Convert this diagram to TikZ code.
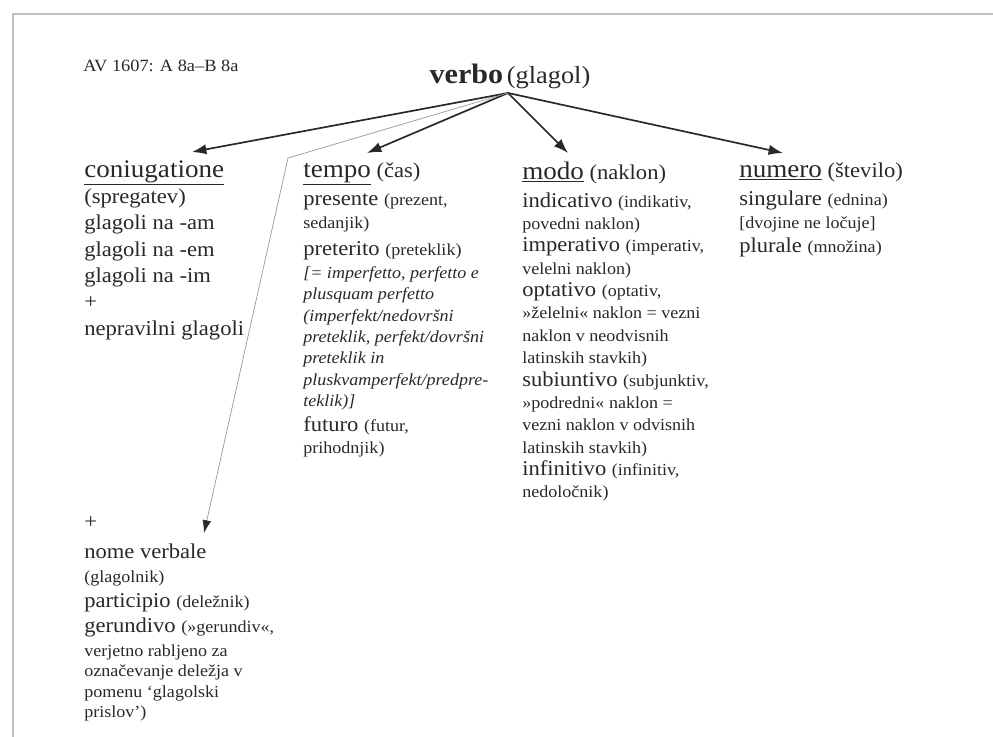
\documentclass[tikz,border=0pt]{standalone}
\usepackage{fontspec}
\setmainfont[FakeStretch=1.07]{Liberation Serif}
\usepackage{xcolor}
\usepackage{tikz}
\usetikzlibrary{arrows.meta,positioning,calc}
\definecolor{ink}{RGB}{40,40,40}
\definecolor{frame}{RGB}{190,190,190}
\newcommand\hd[1]{{\fontsize{18}{20}\selectfont\underline{#1}}}
\newcommand\sm[1]{{\fontsize{12}{13}\selectfont #1}}
\newcommand\note[1]{{\fontsize{12}{13}\selectfont\itshape #1}}

\begin{document}
\begin{tikzpicture}[
  col/.style={anchor=north west, inner sep=0pt, align=left, text=ink},
  arr/.style={-{Latex[length=3.6mm,width=2.6mm]}, line width=1.2pt, draw=ink},
  thin/.style={-{Latex[length=3.2mm,width=2.2mm,color=ink]}, line width=0.5pt, draw=black!40}
]
\useasboundingbox (0,0) rectangle (24.825,-18.425);

% Page frame.
\draw[frame, line width=2pt] (0.325,-18.425) -- (0.325,-0.35) -- (24.825,-0.35);

% Source and root.
\node[anchor=base west, inner sep=0pt, text=ink, font=\fontsize{12.2}{14}\selectfont]
  (src) at (2.075,-1.8) {AV 1607: A 8a--B 8a};
\node[anchor=base, inner sep=0pt, text=ink] (verbo) at (12.75,-2.1)
  {{\fontsize{20}{22}\selectfont\bfseries verbo} {\fontsize{17.5}{19}\selectfont(glagol)}};
\coordinate (apex) at (12.7,-2.325);
\coordinate (bend) at (7.2,-3.95);

% Columns.
\node[col, font=\fontsize{15}{18.7}\selectfont] (conj) at (2.1,-3.965) {
  \strut\hd{coniugatione}\\
  (spregatev)\\
  glagoli na -am\\
  glagoli na -em\\
  glagoli na -im\\
  +\\
  nepravilni glagoli
};

\node[col, font=\fontsize{15}{15.2}\selectfont] (tempo) at (7.575,-4.05) {
  \strut\hd{tempo} (čas)\\[4.7pt]
  presente \sm{(prezent,}\\[1.2pt]
  \sm{sedanjik)}\\[4pt]
  preterito \sm{(preteklik)}\\[1.2pt]
  \note{[= imperfetto, perfetto e}\\
  \note{plusquam perfetto}\\
  \note{(imperfekt/nedovršni}\\
  \note{preteklik, perfekt/dovršni}\\
  \note{preteklik in}\\
  \note{pluskvamperfekt/predpre-}\\
  \note{teklik)]}\\[2.6pt]
  futuro \sm{(futur,}\\[0.4pt]
  \sm{prihodnjik)}
};

\node[col, font=\fontsize{15}{15.9}\selectfont] (modo) at (13.05,-4.035) {
  \strut\hd{modo} (naklon)\\[4pt]
  indicativo \sm{(indikativ,}\\
  \sm{povedni naklon)}\\
  imperativo \sm{(imperativ,}\\
  \sm{velelni naklon)}\\
  optativo \sm{(optativ,}\\
  \sm{»želelni« naklon = vezni}\\
  \sm{naklon v neodvisnih}\\
  \sm{latinskih stavkih)}\\
  subiuntivo \sm{(subjunktiv,}\\
  \sm{»podredni« naklon =}\\
  \sm{vezni naklon v odvisnih}\\
  \sm{latinskih stavkih)}\\
  infinitivo \sm{(infinitiv,}\\
  \sm{nedoločnik)}
};

\node[col, font=\fontsize{15}{16.4}\selectfont] (numero) at (18.475,-4.02) {
  \strut\hd{numero} (število)\\[3.5pt]
  singulare \sm{(ednina)}\\
  \sm{[dvojine ne ločuje]}\\[0.7pt]
  plurale \sm{(množina)}
};

% Verbal nouns, reached by the thin grey line.
\node[col, font=\fontsize{15}{17.5}\selectfont] (nome) at (2.1,-12.77) {
  \strut+\\[3.8pt]
  nome verbale\\
  \sm{(glagolnik)}\\
  participio \sm{(deležnik)}\\
  gerundivo \sm{(»gerundiv«,}\\
  \sm{verjetno rabljeno za}\\[-3.3pt]
  \sm{označevanje deležja v}\\[-2.6pt]
  \sm{pomenu ‘glagolski}\\[-3.3pt]
  \sm{prislov’)}
};

% Arrows from the root.
\draw[arr] (apex) -- ([xshift=2.7cm,yshift=0.165cm]conj.north west);
\draw[arr] (apex) -- ([xshift=1.6cm,yshift=0.225cm]tempo.north west);
\draw[arr] (apex) -- ([xshift=1.15cm,yshift=0.21cm]modo.north west);
\draw[arr] (apex) -- ([xshift=1.1cm,yshift=0.195cm]numero.north west);
\draw[thin] (apex) -- (bend) -- ([xshift=3.0cm,yshift=-0.555cm]nome.north west);

\end{tikzpicture}
\end{document}
